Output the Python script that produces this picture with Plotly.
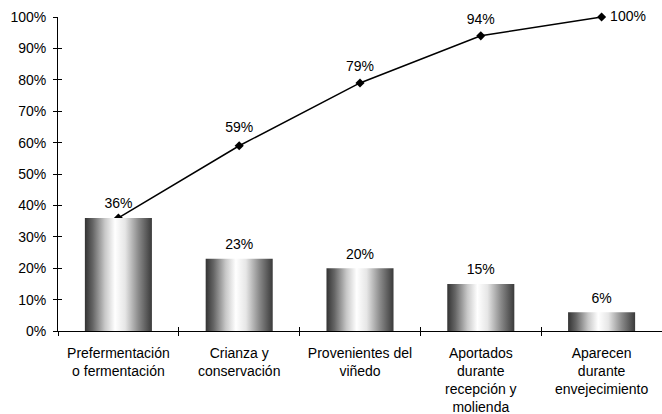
import plotly.graph_objects as go

categories = [
    "Prefermentación<br>o fermentación",
    "Crianza y<br>conservación",
    "Provenientes del<br>viñedo",
    "Aportados<br>durante<br>recepción y<br>molienda",
    "Aparecen<br>durante<br>envejecimiento",
]
bar_values = [0.36, 0.23, 0.20, 0.15, 0.06]
cumulative_values = [0.36, 0.59, 0.79, 0.94, 1.00]
y_tick_values = [i / 10 for i in range(11)]
y_tick_labels = [f"{i * 10}%" for i in range(11)]

FONT = "Liberation Sans, Arial, sans-serif"
BAR_HALF = 0.2775
grad = [[0.0, "#333333"], [0.12, "#666666"], [0.3, "#c8c8c8"], [0.45, "#ffffff"],
        [0.6, "#e6e6e6"], [0.8, "#8a8a8a"], [1.0, "#3a3a3a"]]

fig = go.Figure()

# gradient bars as filled polygons on numeric overlay axis
for i, v in enumerate(bar_values):
    fig.add_trace(go.Scatter(
        x=[i - BAR_HALF, i - BAR_HALF, i + BAR_HALF, i + BAR_HALF, i - BAR_HALF],
        y=[0, v, v, 0, 0],
        mode="lines", fill="toself",
        line=dict(width=0, color="#444444"),
        fillgradient=dict(type="horizontal", colorscale=grad,
                          start=i - BAR_HALF, stop=i + BAR_HALF),
        xaxis="x2", yaxis="y2", hoverinfo="skip", showlegend=False,
    ))

# bar value labels (invisible markers give the text its offset)
fig.add_trace(go.Scatter(
    x=list(range(len(bar_values))), y=bar_values, mode="markers+text",
    marker=dict(size=8, opacity=0),
    text=[f"{round(v * 100)}%" for v in bar_values],
    textposition="top center",
    textfont=dict(family=FONT, size=14, color="#000000"),
    xaxis="x2", yaxis="y2", showlegend=False, cliponaxis=False, hoverinfo="skip",
))

# cumulative line
fig.add_trace(go.Scatter(
    x=categories, y=cumulative_values, mode="lines+markers",
    line=dict(color="#000000", width=1.5),
    marker=dict(symbol="diamond", size=7, color="#000000"),
    showlegend=False, cliponaxis=False,
))

# cumulative labels
line_text = [""] + [f"{round(v * 100)}%" for v in cumulative_values[1:]]
line_pos = ["top center"] * (len(cumulative_values) - 1) + ["middle right"]
fig.add_trace(go.Scatter(
    x=categories, y=cumulative_values, mode="markers+text",
    marker=dict(size=[12, 15, 12, 12, 12], opacity=0),
    text=line_text, textposition=line_pos,
    textfont=dict(family=FONT, size=14, color="#000000"),
    showlegend=False, cliponaxis=False, hoverinfo="skip",
))

axis_common = dict(showgrid=False, zeroline=False)
fig.update_layout(
    width=662, height=414,
    margin=dict(l=58, r=0, t=17, b=83),
    paper_bgcolor="white", plot_bgcolor="white",
    font=dict(family=FONT, size=14, color="#000000"),
    xaxis=dict(type="category", range=[-0.5, 4.5], tickson="boundaries",
               ticks="outside", ticklen=4, tickcolor="#000000", tickwidth=1,
               showline=True, linecolor="#000000", linewidth=1,
               tickfont=dict(family=FONT, size=14, color="#000000"),
               ticklabelstandoff=9, **axis_common),
    xaxis2=dict(overlaying="x", anchor="y", side="bottom", range=[-0.5, 4.5],
                tickvals=[0.5, 1.5, 2.5, 3.5], ticks="inside", ticklen=4,
                tickcolor="#000000", showticklabels=False, showline=False,
                **axis_common),
    yaxis=dict(range=[0, 1], tickvals=y_tick_values, ticktext=y_tick_labels,
               ticks="outside", ticklen=4, tickcolor="#000000",
               showline=True, linecolor="#000000", linewidth=1,
               tickfont=dict(family=FONT, size=14, color="#000000"),
               ticklabelstandoff=4, **axis_common),
    yaxis2=dict(overlaying="y", anchor="x", side="left", range=[0, 1],
                tickvals=y_tick_values, ticks="inside", ticklen=4,
                tickcolor="#000000", showticklabels=False, showline=False,
                **axis_common),
)

fig.write_html("out.html")
